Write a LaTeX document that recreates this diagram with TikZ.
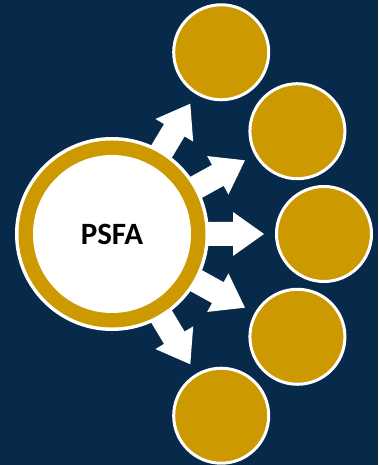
\documentclass[tikz,border=0pt]{standalone}
\usepackage{fontspec}
\setmainfont{Carlito}
\usetikzlibrary{calc}
\definecolor{navy}{RGB}{7,41,74}
\definecolor{gold}{RGB}{204,153,0}
\tikzset{
  sat/.style={circle, fill=gold, draw=white, line width=3pt, minimum size=95pt, inner sep=0pt},
  blockarrow/.style={fill=white, draw=none},
}
\begin{document}
\begin{tikzpicture}[x=1pt,y=1pt]
\fill[navy] (0,0) rectangle (378,465);
\useasboundingbox (0,0) rectangle (378,465);
\coordinate (c) at (112,231);
% arrows
\foreach \a in {59,29,0,-29,-59}{
  \fill[blockarrow, shift={(c)}, rotate=\a]
    (60,-12) -- (121,-12) -- (121,-22) -- (152,0) -- (121,22) -- (121,12) -- (60,12) -- cycle;
}
% central circle
\fill[white] (c) circle[radius=97];
\fill[gold] (c) circle[radius=93.5];
\node[circle, fill=white, minimum size=158pt, inner sep=0pt, font=\bfseries\fontsize{31}{36}\selectfont] (psfa) at (c) {PSFA};
% satellites
\node[sat] (s1) at ($(c)+(59:212)$) {};
\node[sat] (s2) at ($(c)+(29:212)$) {};
\node[sat] (s3) at ($(c)+(0:212)$) {};
\node[sat] (s4) at ($(c)+(-29:212)$) {};
\node[sat] (s5) at ($(c)+(-59:212)$) {};
\end{tikzpicture}
\end{document}
